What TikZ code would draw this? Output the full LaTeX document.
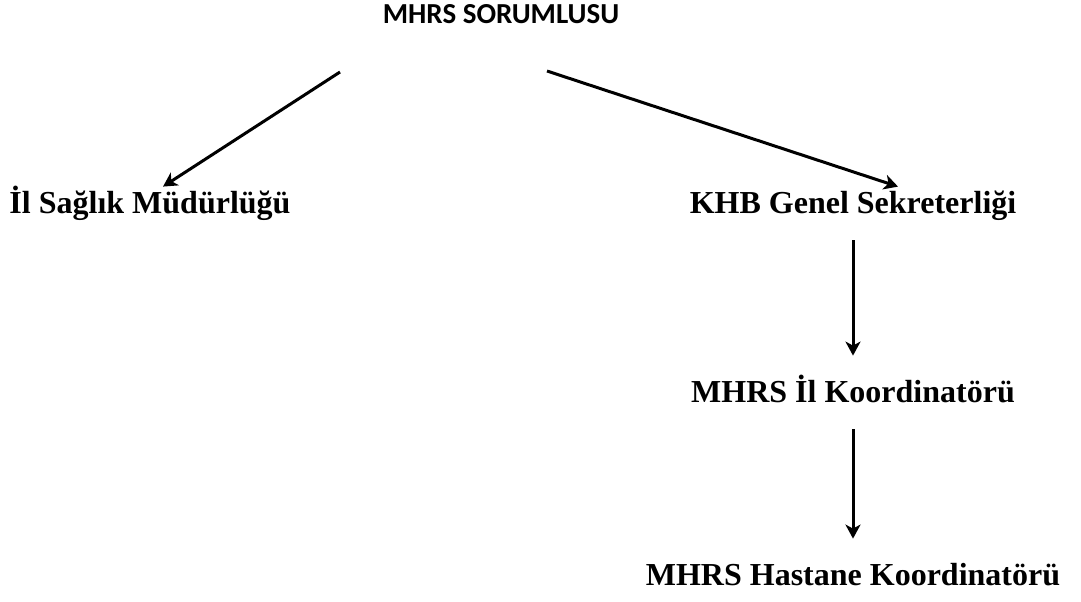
\documentclass[tikz,border=0pt]{standalone}
\usepackage{fontspec}
\setmainfont{Liberation Serif}
\newfontfamily\titlefont{Carlito}
\usetikzlibrary{arrows.meta, positioning}

\begin{document}
\begin{tikzpicture}[
        x=0.5pt, y=-0.5pt,
        % look of the labels and of the arrows
        unit/.style={font=\bfseries\fontsize{16}{19}\selectfont, inner sep=0pt,
            text height=13pt, text depth=4pt, anchor=base},
        head/.style={font=\titlefont\bfseries\fontsize{14.5}{17}\selectfont,
            inner sep=0pt, text height=10pt, text depth=4pt, anchor=base},
        link/.style={line width=1.5pt, -{Stealth[length=7pt, width=7.5pt, inset=2pt]}},
        flow/.style={link, shorten <=9.5pt, shorten >=10pt}
    ]
    \useasboundingbox (0,0) rectangle (1081,601);

    \node[head] (sorumlu) at (501,23) {MHRS SORUMLUSU};
    \node[unit] (ilsaglik) at (150,213) {İl Sağlık Müdürlüğü};
    \node[unit] (khb) at (853,213) {KHB Genel Sekreterliği};
    \node[unit] (ilkoord) at (853,402) {MHRS İl Koordinatörü};
    \node[unit] (hastkoord) at (853,585) {MHRS Hastane Koordinatörü};

    % the two arrows leave from below the title
    \coordinate (solL) at (340,72);
    \coordinate (solR) at (547,71);

    \draw[link] (solL) -- ([xshift=6.5pt]ilsaglik.north);
    \draw[link] (solR) -- ([xshift=22.5pt]khb.north);
    \draw[flow] (khb) -- (ilkoord);
    \draw[flow] (ilkoord) -- (hastkoord);
\end{tikzpicture}
\end{document}
